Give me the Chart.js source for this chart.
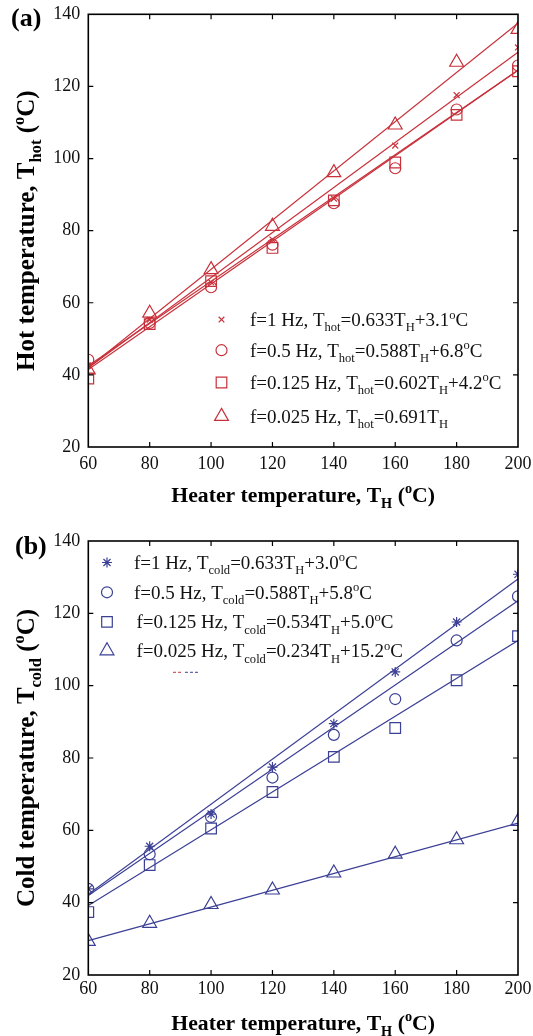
<!DOCTYPE html>
<html><head><meta charset="utf-8">
<script src="https://cdn.jsdelivr.net/npm/chart.js@4/dist/chart.umd.min.js"></script>
<style>
html,body{margin:0;padding:0;background:#fff;width:533px;height:1036px;overflow:hidden}
canvas{position:absolute;left:0}
#c1{top:0}#c2{top:518px}
</style></head>
<body>
<canvas id="c1" width="533" height="518"></canvas>
<canvas id="c2" width="533" height="518"></canvas>
<script>
// ---------- data ----------
const heaterT = [60, 80, 100, 120, 140, 160, 180, 200];
const xTicks = [60, 80, 100, 120, 140, 160, 180, 200];
const yTicks = [20, 40, 60, 80, 100, 120, 140];

const hotF1    = [42.6, 55.3, 65.7, 77.5, 88.9, 103.6, 117.6, 130.8];
const hotF05   = [44.2, 54.4, 64.3, 76.1, 87.6, 97.3, 113.6, 125.8];
const hotF0125 = [39.0, 54.1, 66.0, 75.2, 88.4, 98.9, 112.1, 124.2];
const hotF0025 = [41.4, 57.1, 69.2, 81.2, 96.1, 109.3, 126.7, 135.8];

const coldF1    = [43.8, 55.6, 64.5, 77.5, 89.5, 103.8, 117.6, 130.8];
const coldF05   = [43.8, 53.4, 63.7, 74.6, 86.4, 96.3, 112.5, 124.7];
const coldF0125 = [37.4, 50.4, 60.5, 70.6, 80.3, 88.3, 101.5, 113.7];
const coldF0025 = [29.3, 34.3, 39.5, 43.5, 48.2, 53.4, 57.4, 62.5];

const fitT = [60, 200];
const hotFitF1 = [42.0, 129.5];
const hotFitF05 = [42.5, 124.5];
const hotFitF0125 = [41.5, 124.5];
const hotFitF0025 = [42.0, 137.5];
const coldFitF1 = [42.3, 129.5];
const coldFitF05 = [42.0, 123.5];
const coldFitF0125 = [39.2, 112.5];
const coldFitF0025 = [29.5, 62.0];

// stray dashed marks in panel (b)
const strayRedX = [87.6, 90.4], strayRedY = [103.7, 103.7];
const strayBlueX = [91.5, 96.4], strayBlueY = [103.7, 103.7];

const hotLegend = [
  [['f=1 Hz, T'],['hot','sub'],['=0.633T'],['H','sub'],['+3.1'],['o','sup'],['C']],
  [['f=0.5 Hz, T'],['hot','sub'],['=0.588T'],['H','sub'],['+6.8'],['o','sup'],['C']],
  [['f=0.125 Hz, T'],['hot','sub'],['=0.602T'],['H','sub'],['+4.2'],['o','sup'],['C']],
  [['f=0.025 Hz, T'],['hot','sub'],['=0.691T'],['H','sub']]
];
const coldLegend = [
  [['f=1 Hz, T'],['cold','sub'],['=0.633T'],['H','sub'],['+3.0'],['o','sup'],['C']],
  [['f=0.5 Hz, T'],['cold','sub'],['=0.588T'],['H','sub'],['+5.8'],['o','sup'],['C']],
  [['f=0.125 Hz, T'],['cold','sub'],['=0.534T'],['H','sub'],['+5.0'],['o','sup'],['C']],
  [['f=0.025 Hz, T'],['cold','sub'],['=0.234T'],['H','sub'],['+15.2'],['o','sup'],['C']]
];
const xTitle = [['Heater temperature, T'],['H','sub'],[' ('],['o','sup'],['C)']];
const yTitleHot = [['Hot temperature, T'],['hot','sub'],[' ('],['o','sup'],['C)']];
const yTitleCold = [['Cold temperature, T'],['cold','sub'],[' ('],['o','sup'],['C)']];

// ---------- helpers ----------
const RED = '#c8303a', BLUE = '#3b3f95';
const FAM = '"Liberation Serif", "Times New Roman", serif';

function richWidth(ctx, parts, size, bold) {
  let w = 0;
  for (const p of parts) {
    const s = p[1] ? size * 0.66 : size;
    ctx.font = (bold ? 'bold ' : '') + s + 'px ' + FAM;
    w += ctx.measureText(p[0]).width;
  }
  return w;
}
function rich(ctx, parts, x, y, size, bold, align) {
  const w = richWidth(ctx, parts, size, bold);
  let cx = align === 'center' ? x - w / 2 : x;
  ctx.textBaseline = 'alphabetic';
  ctx.textAlign = 'left';
  for (const p of parts) {
    const s = p[1] ? size * 0.66 : size;
    const dy = p[1] === 'sub' ? size * 0.28 : (p[1] === 'sup' ? -size * 0.4 : 0);
    ctx.font = (bold ? 'bold ' : '') + s + 'px ' + FAM;
    ctx.fillText(p[0], cx, y + dy);
    cx += ctx.measureText(p[0]).width;
  }
}
function marker(ctx, style, r, x, y) {
  ctx.beginPath();
  if (style === 'circle') { ctx.arc(x, y, r, 0, Math.PI * 2); ctx.closePath(); }
  else if (style === 'rect') { const s = Math.SQRT1_2 * r; ctx.rect(x - s, y - s, 2 * s, 2 * s); }
  else if (style === 'triangle') {
    for (let i = 0; i < 3; i++) {
      const a = i * 2 * Math.PI / 3;
      const px = x + Math.sin(a) * r, py = y - Math.cos(a) * r;
      if (i === 0) ctx.moveTo(px, py); else ctx.lineTo(px, py);
    }
    ctx.closePath();
  } else {
    const angs = style === 'crossRot' ? [Math.PI / 4] : [0, Math.PI / 4];
    for (const a of angs) {
      const c = Math.cos(a) * r, s = Math.sin(a) * r;
      ctx.moveTo(x - c, y - s); ctx.lineTo(x + c, y + s);
      ctx.moveTo(x + s, y - c); ctx.lineTo(x - s, y + c);
    }
  }
  ctx.stroke();
}

function pts(xs, ys) { return xs.map((x, i) => ({ x: x, y: ys[i] })); }
function scat(label, ys, color, style, r) {
  return { label, data: pts(heaterT, ys), showLine: false, pointStyle: style, pointRadius: r,
    pointBorderWidth: 1.2, borderColor: color, backgroundColor: 'rgba(0,0,0,0)' };
}
function fit(label, ys, color) {
  return { label, data: pts(fitT, ys), showLine: true, pointRadius: 0, borderWidth: 1.2,
    borderColor: color, backgroundColor: color, tension: 0 };
}

function makeChart(id, o) {
  const deco = {
    id: 'deco',
    afterDraw(chart) {
      const ctx = chart.ctx, a = chart.chartArea;
      const xs = chart.scales.x, ys = chart.scales.y;
      ctx.save();
      ctx.strokeStyle = '#000'; ctx.lineWidth = 1.6;
      ctx.strokeRect(a.left, a.top, a.right - a.left, a.bottom - a.top);
      ctx.lineWidth = 1.2;
      ctx.beginPath();
      for (const v of xTicks.slice(1, -1)) {
        const px = xs.getPixelForValue(v);
        ctx.moveTo(px, a.top); ctx.lineTo(px, a.top + 5);
        ctx.moveTo(px, a.bottom); ctx.lineTo(px, a.bottom - 5);
      }
      for (const v of yTicks.slice(1, -1)) {
        const py = ys.getPixelForValue(v);
        ctx.moveTo(a.left, py); ctx.lineTo(a.left + 5, py);
        ctx.moveTo(a.right, py); ctx.lineTo(a.right - 5, py);
      }
      ctx.stroke();
      // legend
      o.legend.forEach((parts, i) => {
        const y = o.legRows[i];
        ctx.strokeStyle = o.color; ctx.lineWidth = 1.2;
        marker(ctx, o.legStyles[i], o.legRadii[i], o.legMarkerX, y);
        ctx.fillStyle = '#111';
        rich(ctx, parts, o.legTextX[i], y + 6.5, o.legSize, false, 'left');
      });
      // axis titles
      ctx.fillStyle = '#000';
      rich(ctx, xTitle, (a.left + a.right) / 2, o.xTitleY, 21.7, true, 'center');
      ctx.save();
      ctx.translate(o.yTitleX, (a.top + a.bottom) / 2);
      ctx.rotate(-Math.PI / 2);
      rich(ctx, o.yTitle, 0, 0, 25, true, 'center');
      ctx.restore();
      // panel label
      ctx.font = 'bold 26px ' + FAM;
      ctx.textAlign = 'left'; ctx.textBaseline = 'alphabetic';
      ctx.fillText(o.panel, o.panelX, o.panelY);
      ctx.restore();
    }
  };
  return new Chart(document.getElementById(id), {
    type: 'scatter',
    data: { datasets: o.datasets },
    options: {
      responsive: false, animation: false, devicePixelRatio: 1,
      layout: { padding: { top: o.padTop, right: 15, left: 0, bottom: 0 } },
      plugins: { legend: { display: false }, tooltip: { enabled: false } },
      scales: {
        x: { type: 'linear', min: 60, max: 200,
          afterBuildTicks: s => { s.ticks = xTicks.map(v => ({ value: v })); },
          afterFit: s => { s.height = o.xAxisH; s.paddingLeft = 0; s.paddingRight = 0; },
          grid: { display: false, drawTicks: false }, border: { display: false },
          ticks: { padding: o.xPad, color: '#111', font: { family: FAM, size: 18 } } },
        y: { type: 'linear', min: 20, max: 140,
          afterBuildTicks: s => { s.ticks = yTicks.map(v => ({ value: v })); },
          afterFit: s => { s.width = 88.3; s.paddingTop = 0; s.paddingBottom = 0; },
          grid: { display: false, drawTicks: false }, border: { display: false },
          ticks: { padding: 8, color: '#111', font: { family: FAM, size: 18 } } }
      }
    },
    plugins: [deco]
  });
}

makeChart('c1', {
  color: RED, padTop: 14.3, xAxisH: 71, xPad: 6, xTitleY: 502,
  yTitle: yTitleHot, yTitleX: 34, panel: '(a)', panelX: 11, panelY: 26,
  legend: hotLegend, legStyles: ['crossRot', 'circle', 'rect', 'triangle'], legRadii: [4, 5.5, 7.5, 8],
  legMarkerX: 221.5, legTextX: [250, 250, 250, 250], legRows: [319.6, 350.2, 382.5, 416.4], legSize: 19,
  datasets: [
    scat('f=1 Hz', hotF1, RED, 'crossRot', 4.2),
    scat('f=0.5 Hz', hotF05, RED, 'circle', 5.5),
    scat('f=0.125 Hz', hotF0125, RED, 'rect', 7.5),
    scat('f=0.025 Hz', hotF0025, RED, 'triangle', 8),
    fit('fit 1', hotFitF1, RED), fit('fit 0.5', hotFitF05, RED),
    fit('fit 0.125', hotFitF0125, RED), fit('fit 0.025', hotFitF0025, RED)
  ]
});

makeChart('c2', {
  color: BLUE, padTop: 23, xAxisH: 61, xPad: 3, xTitleY: 512,
  yTitle: yTitleCold, yTitleX: 34, panel: '(b)', panelX: 15, panelY: 36,
  legend: coldLegend, legStyles: ['star', 'circle', 'rect', 'triangle'], legRadii: [5, 5.5, 7.5, 8],
  legMarkerX: 107, legTextX: [134, 134, 136.5, 136.5], legRows: [44.5, 74.3, 103.9, 132.8], legSize: 19,
  datasets: [
    scat('f=1 Hz', coldF1, BLUE, 'star', 5),
    scat('f=0.5 Hz', coldF05, BLUE, 'circle', 5.5),
    scat('f=0.125 Hz', coldF0125, BLUE, 'rect', 7.5),
    scat('f=0.025 Hz', coldF0025, BLUE, 'triangle', 8),
    fit('fit 1', coldFitF1, BLUE), fit('fit 0.5', coldFitF05, BLUE),
    fit('fit 0.125', coldFitF0125, BLUE), fit('fit 0.025', coldFitF0025, BLUE),
    { label: 'stray red', data: pts(strayRedX, strayRedY), showLine: true, pointRadius: 0,
      borderWidth: 1, borderDash: [3, 2], borderColor: RED },
    { label: 'stray blue', data: pts(strayBlueX, strayBlueY), showLine: true, pointRadius: 0,
      borderWidth: 1, borderDash: [3, 2], borderColor: BLUE }
  ]
});
</script>
</body></html>
